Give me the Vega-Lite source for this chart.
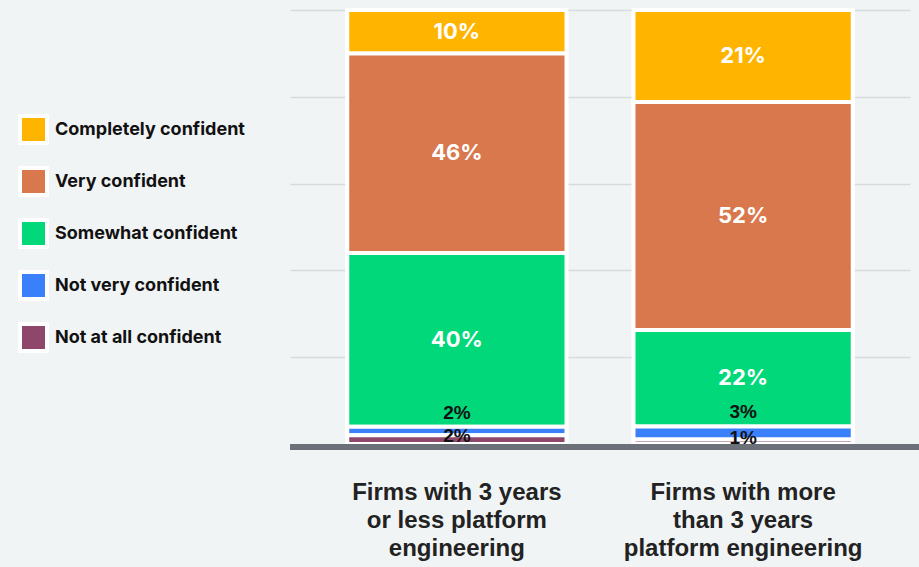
{
  "$schema": "https://vega.github.io/schema/vega-lite/v6.json",
  "width": 629,
  "height": 434,
  "autosize": "none",
  "padding": {"left": 290, "top": 10, "right": 0, "bottom": 123},
  "background": "#f1f4f5",
  "config": {"view": {"stroke": null}},
  "data": {
    "values": [
      {"firm": "Firms with 3 years or less platform engineering", "confidence": "Completely confident", "rank": 5, "pct": 10},
      {"firm": "Firms with 3 years or less platform engineering", "confidence": "Very confident", "rank": 4, "pct": 46},
      {"firm": "Firms with 3 years or less platform engineering", "confidence": "Somewhat confident", "rank": 3, "pct": 40},
      {"firm": "Firms with 3 years or less platform engineering", "confidence": "Not very confident", "rank": 2, "pct": 2},
      {"firm": "Firms with 3 years or less platform engineering", "confidence": "Not at all confident", "rank": 1, "pct": 2},
      {"firm": "Firms with more than 3 years platform engineering", "confidence": "Completely confident", "rank": 5, "pct": 21},
      {"firm": "Firms with more than 3 years platform engineering", "confidence": "Very confident", "rank": 4, "pct": 52},
      {"firm": "Firms with more than 3 years platform engineering", "confidence": "Somewhat confident", "rank": 3, "pct": 22},
      {"firm": "Firms with more than 3 years platform engineering", "confidence": "Not very confident", "rank": 2, "pct": 3},
      {"firm": "Firms with more than 3 years platform engineering", "confidence": "Not at all confident", "rank": 1, "pct": 1}
    ]
  },
  "transform": [
    {"stack": "pct", "groupby": ["firm"], "sort": [{"field": "rank", "order": "ascending"}], "as": ["y0", "y1"], "offset": "normalize"},
    {"calculate": "(datum.y0 + datum.y1) / 2", "as": "ymid"},
    {"calculate": "datum.pct + '%'", "as": "label"}
  ],
  "layer": [
    {
      "mark": {"type": "bar", "stroke": "white", "strokeWidth": 4},
      "encoding": {
        "x": {
          "field": "firm",
          "type": "nominal",
          "scale": {"range": [0, 620], "paddingInner": 0.234, "paddingOuter": 0.2},
          "axis": {
            "title": null,
            "domain": false,
            "ticks": false,
            "labelAngle": 0,
            "labelPadding": 36,
            "labelFont": "Liberation Sans",
            "labelFontWeight": "bold",
            "labelFontSize": 24,
            "labelColor": "#222222",
            "labelLineHeight": 28,
            "labelLimit": 0,
            "labelExpr": "datum.value == 'Firms with 3 years or less platform engineering' ? ['Firms with 3 years', 'or less platform', 'engineering'] : ['Firms with more', 'than 3 years', 'platform engineering']"
          }
        },
        "y": {
          "field": "y0",
          "type": "quantitative",
          "scale": {"domain": [0, 1]},
          "axis": {
            "title": null,
            "labels": false,
            "ticks": false,
            "domain": false,
            "grid": true,
            "values": [0.2, 0.4, 0.6, 0.8, 1],
            "gridColor": "#d6dbde",
            "gridWidth": 1.5
          }
        },
        "y2": {"field": "y1"},
        "color": {
          "field": "confidence",
          "type": "nominal",
          "scale": {
            "domain": ["Completely confident", "Very confident", "Somewhat confident", "Not very confident", "Not at all confident"],
            "range": ["#ffb400", "#d9774d", "#00d87a", "#3a80fa", "#8e476b"]
          },
          "legend": {
            "orient": "none",
            "legendX": -272,
            "legendY": 104,
            "title": null,
            "padding": 0,
            "symbolType": "square",
            "symbolSize": 729,
            "symbolStrokeColor": "white",
            "symbolStrokeWidth": 4,
            "symbolOpacity": 1,
            "labelFont": "Inter",
            "labelFontSize": 18,
            "labelFontWeight": "bold",
            "labelColor": "#111111",
            "labelOffset": 6,
            "labelLimit": 0,
            "rowPadding": 9
          }
        }
      }
    },
    {
      "mark": {"type": "rule", "color": "#6b7079", "strokeWidth": 5, "yOffset": 3},
      "encoding": {"y": {"datum": 0}}
    },
    {
      "transform": [{"filter": "datum.pct >= 5"}],
      "mark": {"type": "text", "color": "white", "font": "Inter", "fontWeight": "bold", "fontSize": 22, "baseline": "middle"},
      "encoding": {
        "x": {"field": "firm", "type": "nominal"},
        "y": {"field": "ymid", "type": "quantitative"},
        "text": {"field": "label"}
      }
    },
    {
      "transform": [{"filter": "datum.rank == 2"}],
      "mark": {"type": "text", "color": "#111111", "font": "Liberation Sans", "fontWeight": "bold", "fontSize": 19, "baseline": "middle", "dy": -14},
      "encoding": {
        "x": {"field": "firm", "type": "nominal"},
        "y": {"field": "y1", "type": "quantitative"},
        "text": {"field": "label"}
      }
    },
    {
      "transform": [{"filter": "datum.rank == 1"}],
      "mark": {"type": "text", "color": "#111111", "font": "Liberation Sans", "fontWeight": "bold", "fontSize": 19, "baseline": "middle", "dy": -4},
      "encoding": {
        "x": {"field": "firm", "type": "nominal"},
        "y": {"field": "ymid", "type": "quantitative"},
        "text": {"field": "label"}
      }
    }
  ]
}
